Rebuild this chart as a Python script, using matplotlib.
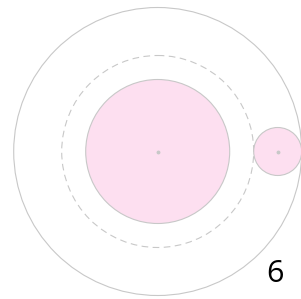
import matplotlib
matplotlib.use("Agg")
import numpy as np
import matplotlib.pyplot as plt
from matplotlib.patches import Circle

# Circle sizes (pixel units of the original picture)
center = (157.7, 151.5)
outer_radius = 144
orbit_radius = 96
planet_radius = 72
moon_radius = 24
moon_angle = 0          # degrees, moon sits on the right
label = "6"

fill_color = "#fddff0"
edge_color = "#c8c8c8"

fig = plt.figure(figsize=(3.01, 2.99), dpi=100)
ax = fig.add_axes([0, 0, 1, 1])
ax.set_xlim(0, 301)
ax.set_ylim(299, 0)
ax.set_aspect("equal")
ax.axis("off")

# Outer ring
ax.add_patch(Circle(center, outer_radius, fill=False, edgecolor=edge_color, linewidth=0.8))
# Dashed orbit
ax.add_patch(Circle(center, orbit_radius, fill=False, edgecolor=edge_color,
                    linewidth=0.8, linestyle=(0, (6, 4))))
# Main body
ax.add_patch(Circle(center, planet_radius, facecolor=fill_color, edgecolor=edge_color, linewidth=0.8))
ax.plot(center[0], center[1], "o", color=edge_color, markersize=1.8)

# Moon on the outside of the orbit
dist = orbit_radius + moon_radius
mx = center[0] + dist * np.cos(np.radians(moon_angle))
my = center[1] - dist * np.sin(np.radians(moon_angle))
ax.add_patch(Circle((mx, my), moon_radius, facecolor=fill_color, edgecolor=edge_color, linewidth=0.8))
ax.plot(mx, my, "o", color=edge_color, markersize=1.8)

ax.text(275, 273.5, label, fontsize=22, family="Open Sans", ha="center", va="center", color="black")

fig.savefig("out.png", dpi=100)
